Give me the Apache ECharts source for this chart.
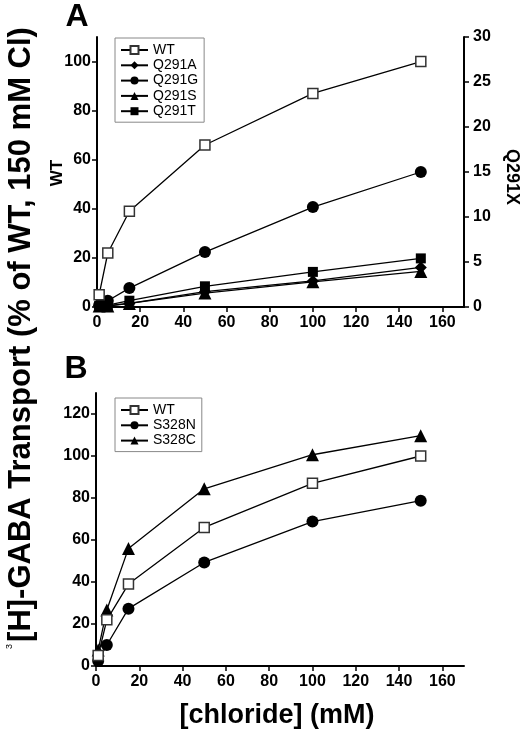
<!DOCTYPE html>
<html>
<head>
<meta charset="utf-8">
<script src="https://cdn.jsdelivr.net/npm/echarts@6/dist/echarts.min.js"></script>
<style>
html,body{margin:0;padding:0;background:#fff;}
#c{width:520px;height:731px;}
</style>
</head>
<body>
<div id="c"></div>
<script>
// ---- data ----
const conc = [1, 5, 15, 50, 100, 150];
const xTicks = [0, 20, 40, 60, 80, 100, 120, 140, 160];
const yTicksA = [0, 20, 40, 60, 80, 100];
const yTicksA2 = [0, 5, 10, 15, 20, 25, 30];
const yTicksB = [0, 20, 40, 60, 80, 100, 120];

const wtA   = [5, 22, 39, 66, 87, 100];
const q291A = [0.1, 0.15, 0.4, 1.7, 2.9, 4.4];
const q291G = [0.2, 0.7, 2.1, 6.1, 11.1, 15.0];
const q291S = [0.1, 0.1, 0.4, 1.55, 2.8, 3.95];
const q291T = [0.1, 0.2, 0.7, 2.3, 3.9, 5.4];

const wtB   = [5, 22, 39, 66, 87, 100];
const s328N = [2.4, 10, 27.3, 49.3, 68.8, 78.7];
const s328C = [7.6, 26.7, 56, 84.4, 100.6, 109.7];

const legendA = ['WT', 'Q291A', 'Q291G', 'Q291S', 'Q291T'];
const legendB = ['WT', 'S328N', 'S328C'];

// ---- styles ----
const FF = 'Liberation Sans, Arial, sans-serif';
const axisLine = {show: true, lineStyle: {color: '#000', width: 2}};
const axisTick = (vals) => ({show: true, length: 5, lineStyle: {color: '#000', width: 1.5}, customValues: vals});
const axisLabel = (vals, margin) => ({show: true, fontFamily: FF, fontWeight: 'bold', fontSize: 16, color: '#000', margin: margin, customValues: vals});

function pairs(xs, ys) { return xs.map((x, i) => [x, ys[i]]); }

function lineSeries(name, xIdx, yIdx, data, symbol, size, open) {
  return {
    name: name, type: 'line', xAxisIndex: xIdx, yAxisIndex: yIdx,
    data: pairs(conc, data), symbol: symbol, symbolSize: size,
    showAllSymbol: true,
    lineStyle: {color: '#000', width: 1.3},
    itemStyle: open ? {color: '#fff', borderColor: '#333', borderWidth: 1.5} : {color: '#000', borderColor: '#000', borderWidth: 0},
    z: open ? 5 : 3,
    animation: false
  };
}

const chart = echarts.init(document.getElementById('c'), null, {renderer: 'canvas'});
chart.setOption({
  backgroundColor: '#fff',
  animation: false,
  grid: [
    {left: 97, right: 56, top: 37, height: 270},
    {left: 96, right: 56, top: 393, height: 273}
  ],
  xAxis: [
    {type: 'value', gridIndex: 0, min: 0, max: 170, interval: 20, splitLine: {show: false},
     axisLine: axisLine, axisTick: axisTick(xTicks), axisLabel: axisLabel(xTicks, 8)},
    {type: 'value', gridIndex: 1, min: 0, max: 170, interval: 20, splitLine: {show: false},
     axisLine: axisLine, axisTick: axisTick(xTicks), axisLabel: axisLabel(xTicks, 8)}
  ],
  yAxis: [
    {type: 'value', gridIndex: 0, min: 0, max: 110, interval: 20, position: 'left', splitLine: {show: false},
     axisLine: axisLine, axisTick: axisTick(yTicksA), axisLabel: axisLabel(yTicksA, 6)},
    {type: 'value', gridIndex: 0, min: 0, max: 30, interval: 5, position: 'right', splitLine: {show: false},
     axisLine: axisLine, axisTick: axisTick(yTicksA2), axisLabel: axisLabel(yTicksA2, 9)},
    {type: 'value', gridIndex: 1, min: 0, max: 130, interval: 20, position: 'left', splitLine: {show: false},
     axisLine: axisLine, axisTick: axisTick(yTicksB), axisLabel: axisLabel(yTicksB, 6)}
  ],
  legend: [
    {data: legendA, orient: 'vertical', left: 115, top: 38, itemWidth: 27, itemHeight: 10, itemGap: 1.3,
     padding: [5, 6, 4, 5], borderColor: '#888', borderWidth: 1, selectedMode: false,
     textStyle: {fontFamily: FF, fontSize: 14, color: '#000'}},
    {data: legendB, orient: 'vertical', left: 115, top: 398, itemWidth: 27, itemHeight: 10, itemGap: 1.3,
     padding: [5, 6, 4, 5], borderColor: '#888', borderWidth: 1, selectedMode: false,
     textStyle: {fontFamily: FF, fontSize: 14, color: '#000'}}
  ],
  series: [
    lineSeries('Q291A', 0, 1, q291A, 'diamond', 12, false),
    lineSeries('Q291G', 0, 1, q291G, 'circle', 12, false),
    lineSeries('Q291S', 0, 1, q291S, 'triangle', 13, false),
    lineSeries('Q291T', 0, 1, q291T, 'rect', 10, false),
    lineSeries('WT', 0, 0, wtA, 'rect', 10, true),
    lineSeries('S328N', 1, 2, s328N, 'circle', 12, false),
    lineSeries('S328C', 1, 2, s328C, 'triangle', 13, false),
    lineSeries('WT', 1, 2, wtB, 'rect', 10, true)
  ],
  graphic: [
    {type: 'text', x: 77, y: 17, style: {text: 'A', fontFamily: FF, fontWeight: 'bold', fontSize: 32, fill: '#000', align: 'center', verticalAlign: 'middle'}},
    {type: 'text', x: 76, y: 369, style: {text: 'B', fontFamily: FF, fontWeight: 'bold', fontSize: 32, fill: '#000', align: 'center', verticalAlign: 'middle'}},
    {type: 'text', x: 57, y: 173, rotation: Math.PI / 2, style: {text: 'WT', fontFamily: FF, fontWeight: 'bold', fontSize: 17, fill: '#000', align: 'center', verticalAlign: 'middle'}},
    {type: 'text', x: 512, y: 177, rotation: -Math.PI / 2, style: {text: 'Q291X', fontFamily: FF, fontWeight: 'bold', fontSize: 18, fill: '#000', align: 'center', verticalAlign: 'middle'}},
    {type: 'text', x: 277, y: 716, style: {text: '[chloride] (mM)', fontFamily: FF, fontWeight: 'bold', fontSize: 27, fill: '#000', align: 'center', verticalAlign: 'middle'}},
    {type: 'text', x: 21, y: 338, rotation: Math.PI / 2, style: {
      text: '{sup|3}[H]-GABA Transport (% of WT, 150 mM Cl)', fontFamily: FF, fontWeight: 'bold', fontSize: 31, fill: '#000',
      align: 'center', verticalAlign: 'middle',
      rich: {sup: {fontFamily: FF, fontSize: 9, fontWeight: 'normal', fill: '#000', verticalAlign: 'top', padding: [0, 2, 0, 0]}}
    }}
  ]
});
</script>
</body>
</html>
